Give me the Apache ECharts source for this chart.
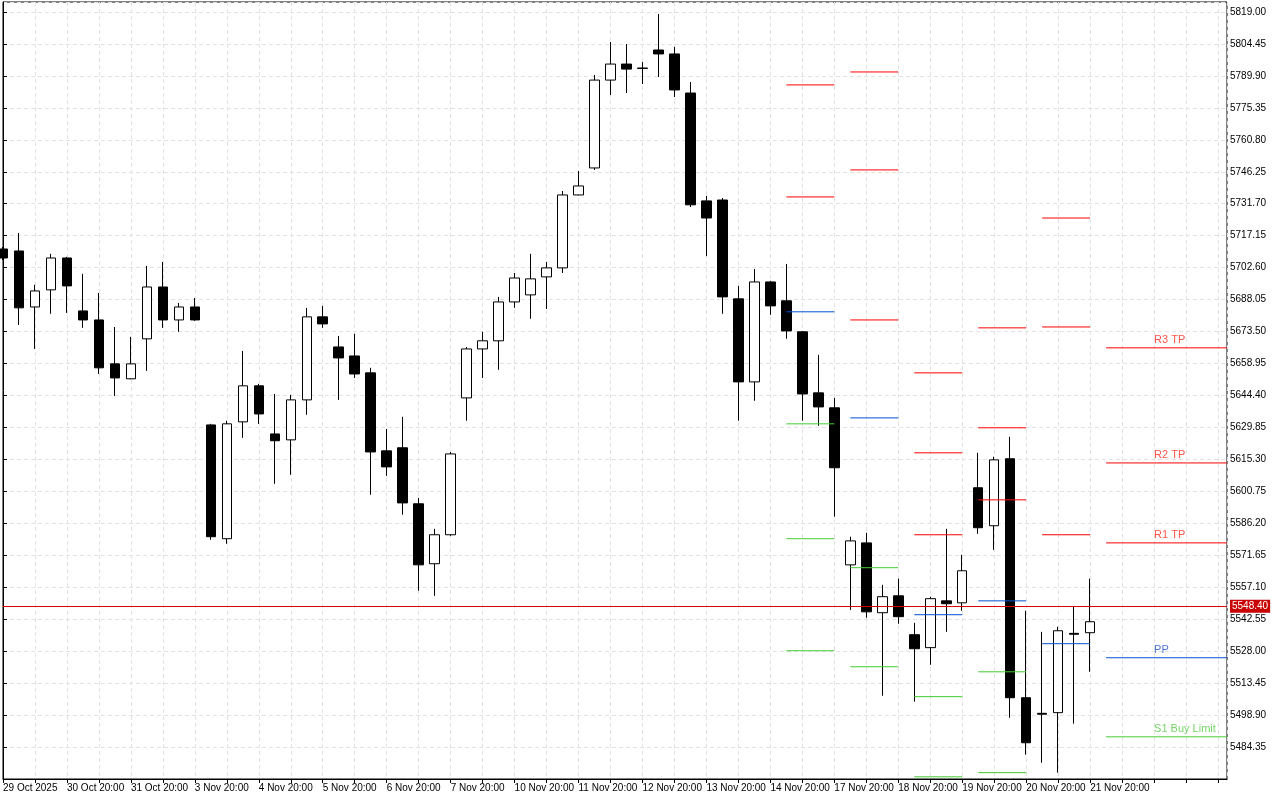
<!DOCTYPE html>
<html>
<head>
    <meta charset="utf-8">
    <title>US500 H6</title>
    <script src="https://cdn.jsdelivr.net/npm/echarts@6/dist/echarts.min.js"></script>
    <style>
        body { margin: 0; background: #fff; }
        #main { width: 1280px; height: 800px; }
    </style>
</head>
<body>
<div id="main"></div>
<script type="text/javascript">
    // candles: open, close, low, high
    var opens  = [5711.1,5710.2,5684.7,5692.5,5707.0,5682.9,5678.8,5658.8,5652.0,5670.2,5693.8,5678.8,5684.7,5631.0,5579.2,5632.4,5648.8,5626.9,5624.2,5642.4,5680.2,5666.5,5662.4,5654.7,5619.2,5620.6,5595.1,5567.8,5581.0,5643.3,5665.6,5669.3,5687.0,5690.2,5698.4,5702.5,5735.7,5748.0,5788.0,5795.3,5793.5,5801.7,5799.9,5782.1,5733.0,5733.4,5688.4,5650.6,5696.1,5687.5,5673.4,5645.6,5638.8,5567.3,5577.3,5545.5,5553.2,5535.5,5529.6,5550.9,5550.0,5602.4,5585.1,5615.6,5506.8,5499.7,5500.0,5536.1,5536.4];
    var closes = [5707.0,5684.3,5692.0,5707.0,5694.3,5678.8,5657.0,5652.4,5658.8,5693.8,5678.8,5684.7,5678.8,5580.1,5631.5,5648.8,5636.0,5623.8,5642.4,5680.2,5677.0,5661.5,5654.2,5618.7,5611.9,5595.5,5567.3,5581.0,5617.8,5665.6,5669.3,5687.0,5697.9,5697.5,5702.5,5735.7,5739.8,5788.0,5795.3,5793.0,5793.3,5799.9,5783.5,5731.2,5725.2,5689.3,5650.6,5696.1,5685.2,5673.8,5645.1,5639.2,5611.5,5578.2,5545.9,5552.8,5543.7,5529.1,5551.9,5549.6,5564.6,5584.2,5615.1,5506.8,5486.3,5499.3,5537.3,5535.7,5541.4];
    var lows   = [5706.1,5676.5,5665.6,5681.6,5682.0,5675.2,5654.2,5644.2,5651.8,5655.6,5675.2,5673.4,5678.4,5578.7,5576.9,5625.1,5631.5,5604.2,5608.3,5635.6,5675.2,5642.4,5652.4,5599.2,5607.8,5590.1,5555.5,5553.2,5580.5,5632.9,5652.4,5656.1,5684.3,5679.3,5683.8,5700.2,5735.5,5747.1,5781.2,5782.1,5786.2,5789.4,5780.3,5730.2,5707.9,5681.6,5632.9,5642.0,5681.1,5670.2,5632.9,5630.6,5589.2,5546.8,5543.2,5507.7,5540.5,5505.0,5521.8,5536.8,5546.4,5581.4,5574.1,5497.7,5480.9,5477.2,5472.7,5495.0,5518.6];
    var highs  = [5712.0,5718.4,5694.8,5708.9,5707.5,5699.8,5691.1,5675.6,5671.1,5703.4,5705.2,5686.5,5688.8,5631.5,5632.9,5664.7,5649.7,5645.1,5644.7,5684.3,5685.2,5671.5,5672.5,5657.0,5629.2,5634.7,5597.8,5583.7,5618.7,5666.5,5673.4,5689.3,5700.2,5708.9,5705.2,5737.5,5746.6,5790.3,5805.3,5804.4,5796.2,5818.1,5803.1,5787.1,5735.3,5734.3,5694.3,5702.0,5696.6,5704.3,5673.8,5662.9,5643.3,5580.1,5581.9,5558.2,5561.0,5540.9,5552.8,5583.7,5571.9,5618.3,5616.5,5625.6,5546.4,5536.8,5539.1,5548.2,5561.0];

    // x labels, one every 4 candles
    var timeLabels = ['29 Oct 2025','30 Oct 20:00','31 Oct 20:00','3 Nov 20:00','4 Nov 20:00','5 Nov 20:00','6 Nov 20:00','7 Nov 20:00','10 Nov 20:00','11 Nov 20:00','12 Nov 20:00','13 Nov 20:00','14 Nov 20:00','17 Nov 20:00','18 Nov 20:00','19 Nov 20:00','20 Nov 20:00','21 Nov 20:00'];

    // daily pivot levels
    var levelStart = [49,53,57,61,65,69];
    var redLevels = [[5785.8,5734.8],[5791.7,5747.1,5678.8],[5654.7,5618.3,5581.0],[5675.2,5629.7,5596.9],[5725.2,5675.6,5581.0],[5666.1,5613.7,5577.3]];
    var ppLevels = [5682.5,5634.2,5544.6,5550.9,5531.4,5525.0];
    var greenLevels = [[5631.5,5579.2,5528.2],[5566.0,5520.9],[5507.3,5470.8],[5518.6,5472.7],[],[5489.0]];
    var lastNames = ['R3 TP','R2 TP','R1 TP'];
    var currentPrice = 5548.40;

    var xMax = 76.56;
    var candleData = [];
    for (var i = 0; i < opens.length; i++) {
        candleData.push([i, opens[i], closes[i], lows[i], highs[i]]);
    }

    function segs(list) {
        var out = [];
        for (var d = 0; d < levelStart.length; d++) {
            var x0 = levelStart[d];
            var x1 = d == levelStart.length - 1 ? xMax : x0 + 3;
            var vals = Array.isArray(list[d]) ? list[d] : [list[d]];
            for (var k = 0; k < vals.length; k++) {
                out.push([x0, vals[k]], [x1, vals[k]], '-');
            }
        }
        return out;
    }

    var last = levelStart.length - 1;
    var labelPts = [];
    for (var k = 0; k < redLevels[last].length; k++) {
        labelPts.push({value: [72, redLevels[last][k]], name: lastNames[k], label: {color: '#ff2a1a'}});
    }
    labelPts.push({value: [72, ppLevels[last]], name: 'PP', label: {color: '#2255cc'}});
    labelPts.push({value: [72, greenLevels[last][0]], name: 'S1 Buy Limit', label: {color: '#55cc44'}});

    var myChart = echarts.init(document.getElementById('main'));
    var font = 'Liberation Sans';
    myChart.setOption({
        animation: false,
        backgroundColor: '#fff',
        grid: {left: 2, right: 53, top: 2, bottom: 21, show: true, borderColor: '#000', borderWidth: 1},
        xAxis: {
            type: 'value', min: 0, max: xMax, interval: 2,
            axisLine: {lineStyle: {color: '#000'}},
            axisTick: {show: true, length: 4, lineStyle: {color: '#000'}},
            axisLabel: {
                showMaxLabel: false, color: '#000', fontFamily: font, fontSize: 10, align: 'left', margin: 4,
                formatter: function (v) { return v % 4 == 0 ? (timeLabels[v / 4] || '') : ''; }
            },
            splitLine: {show: true, lineStyle: {color: '#e2e2e2', type: [4, 3]}}
        },
        yAxis: {
            type: 'value', position: 'right', min: 5469.80, max: 5823.55, interval: 14.55, scale: true,
            axisLine: {show: true, lineStyle: {color: '#000'}},
            axisTick: {show: true, length: 4, lineStyle: {color: '#000'}},
            axisLabel: {showMinLabel: false, showMaxLabel: false, color: '#000', fontFamily: font, fontSize: 10, margin: 3,
                formatter: function (v) { return v.toFixed(2); }},
            splitLine: {show: true, lineStyle: {color: '#e2e2e2', type: [4, 3]}}
        },
        series: [
            {type: 'line', data: segs(greenLevels), symbol: 'none', lineStyle: {color: '#44cc33', width: 1}, silent: true},
            {type: 'line', data: segs(ppLevels), symbol: 'none', lineStyle: {color: '#0050d0', width: 1}, silent: true},
            {type: 'line', data: segs(redLevels), symbol: 'none', lineStyle: {color: '#ff0000', width: 1}, silent: true},
            {
                type: 'candlestick', data: candleData, barWidth: 10, clip: true,
                itemStyle: {color: '#fff', color0: '#000', borderColor: '#000', borderColor0: '#000', borderWidth: 1},
                markLine: {
                    silent: true, symbol: 'none',
                    lineStyle: {color: '#e00000', type: 'solid', width: 1},
                    label: {position: 'end', distance: 3, formatter: currentPrice.toFixed(2), color: '#fff',
                        backgroundColor: '#c80000', padding: [2, 2, 1, 2], fontFamily: font, fontSize: 10},
                    data: [{yAxis: currentPrice}]
                }
            },
            {
                type: 'scatter', data: labelPts, symbolSize: 0, silent: true,
                label: {show: true, position: [0, -13], formatter: '{b}', fontFamily: font, fontSize: 11}
            }
        ]
    });
</script>
</body>
</html>
